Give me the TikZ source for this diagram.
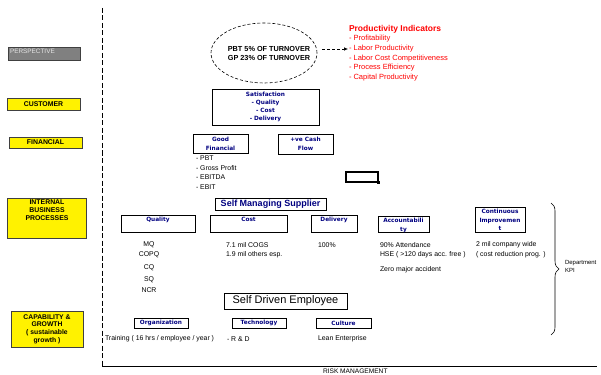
\documentclass[tikz,border=0pt]{standalone}
\usepackage{fontspec}
\setmainfont{Liberation Sans}
\newfontfamily\hdrfont{DejaVu Sans}
\usetikzlibrary{shapes.geometric,arrows.meta,decorations.pathreplacing}
\definecolor{navy}{RGB}{0,0,128}
\definecolor{perspgray}{RGB}{128,128,128}
\begin{document}
\begin{tikzpicture}[x=1pt,y=-1pt,
  every node/.style={inner sep=0pt,outer sep=0pt},
  txt/.style={anchor=west,font=\fontsize{6.9}{7.5}\selectfont},
  ctxt/.style={font=\fontsize{6.9}{7.5}\selectfont},
  redtxt/.style={anchor=west,text=red,font=\fontsize{7.5}{8}\selectfont},
  hdr/.style={font=\hdrfont\bfseries\fontsize{5.8}{8.5}\selectfont,text=navy,align=center},
  bbox/.style={draw,line width=0.6pt},
  ylab/.style={draw=black!75,fill=yellow,line width=0.8pt},
  ytxt/.style={font=\bfseries\fontsize{6.9}{7.8}\selectfont,align=center},
]
\useasboundingbox (0,0) rectangle (601,374);

% frame lines
\coordinate (vtop) at (102,8);
\coordinate (vbot) at (102,366);
\coordinate (hend) at (597,366);
\draw[line width=0.8pt,dash pattern=on 5pt off 2.5pt] (vtop) -- (vbot);
\draw[line width=0.8pt] (vbot) -- (hend);
\node[anchor=west,font=\fontsize{6.6}{7}\selectfont] (risk) at (323,371) {RISK MANAGEMENT};

% left perspective labels
\node[draw=black!75,fill=perspgray,line width=0.8pt,minimum width=72pt,minimum height=13pt] (persp) at (44,53.5) {};
\node[anchor=west,text=black!10,font=\fontsize{6.4}{7}\selectfont] (persptxt) at (10,51.5) {PERSPECTIVE};
\node[ylab,minimum width=73pt,minimum height=12pt] (cust) at (43.5,104) {};
\node[ytxt] at (cust) {CUSTOMER};
\node[ylab,minimum width=73pt,minimum height=11pt] (fin) at (45.5,142.5) {};
\node[ytxt] at (fin) {FINANCIAL};
\node[ylab,minimum width=79pt,minimum height=40pt] (ibp) at (46.5,218) {};
\node[ytxt,anchor=north] (ibptxt) at (47,200) {INTERNAL\\BUSINESS\\PROCESSES};
\node[ylab,minimum width=72pt,minimum height=36pt] (cap) at (47,329) {};
\node[ytxt,font=\bfseries\fontsize{6.8}{7.7}\selectfont] at (cap) {CAPABILITY \&\\GROWTH\\( sustainable\\growth )};

% perspective ellipse and productivity indicators
\node[ellipse,draw,line width=0.6pt,dash pattern=on 3pt off 2pt,minimum width=106pt,minimum height=60pt] (ell) at (264,53) {};
\node[align=center,font=\bfseries\fontsize{7.3}{9}\selectfont] (elltxt) at (269,53.5) {PBT 5\% OF TURNOVER\\GP 23\% OF TURNOVER};
\node[anchor=west,text=red,font=\bfseries\fontsize{8.5}{9}\selectfont] (ptitle) at (349,29.5) {Productivity Indicators};
\node[redtxt] (pi1) at (349,39) {- Profitability};
\node[redtxt] (pi2) at (349,49) {- Labor Productivity};
\node[redtxt] (pi3) at (349,58.5) {- Labor Cost Competitiveness};
\node[redtxt] (pi4) at (349,68) {- Process Efficiency};
\node[redtxt] (pi5) at (349,78) {- Capital Productivity};
\draw[line width=0.6pt,dash pattern=on 3pt off 2pt,-{Latex[length=4pt,width=3.5pt]},shorten <=5pt,shorten >=1pt]
  (ell.east |- pi2.west) -- (pi2.west);

% customer
\node[bbox,minimum width=107pt,minimum height=36pt] (sat) at (265.5,107) {};
\node[hdr,font=\hdrfont\bfseries\fontsize{5.8}{8}\selectfont] at (sat) {Satisfaction\\- Quality\\- Cost\\- Delivery};

% financial
\node[bbox,minimum width=55pt,minimum height=19pt] (gf) at (220.5,143.5) {};
\node[hdr,font=\hdrfont\bfseries\fontsize{5.8}{9}\selectfont] at (gf) {Good\\Financial};
\node[bbox,minimum width=55pt,minimum height=20pt] (cf) at (305.5,144) {};
\node[hdr,font=\hdrfont\bfseries\fontsize{5.8}{9}\selectfont] at (cf) {+ve Cash\\Flow};
\node[txt] (f1) at (196,158.5) {- PBT};
\node[txt] (f2) at (196,168) {- Gross Profit};
\node[txt] (f3) at (196,177.5) {- EBITDA};
\node[txt] (f4) at (196,187) {- EBIT};

\node[draw,line width=1.6pt,minimum width=32pt,minimum height=10pt] (sel) at (362,177) {};
\node[fill=black,minimum width=3pt,minimum height=3pt] (selh) at (sel.south east) {};

% internal business processes
\node[bbox,minimum width=111pt,minimum height=12pt,text=navy,font=\bfseries\fontsize{9}{10}\selectfont] (sms) at (270.5,204.5) {Self Managing Supplier};
\node[bbox,minimum width=74pt,minimum height=17pt] (qual) at (158,223.5) {};
\node[hdr,anchor=north] at ([yshift=-2.5pt]qual.north) {Quality};
\node[bbox,minimum width=77pt,minimum height=17pt] (cost) at (248.5,223.5) {};
\node[hdr,anchor=north] at ([yshift=-2.5pt]cost.north) {Cost};
\node[bbox,minimum width=46pt,minimum height=17pt] (deliv) at (334,223.5) {};
\node[hdr,anchor=north] at ([yshift=-2.5pt]deliv.north) {Delivery};
\node[bbox,minimum width=51pt,minimum height=16pt] (acc) at (403.5,224) {};
\node[hdr,anchor=north] at ([yshift=-2.5pt]acc.north) {Accountabili\\ty};
\node[bbox,minimum width=50pt,minimum height=25pt] (ci) at (500,219.5) {};
\node[hdr,anchor=north] at ([yshift=-2.5pt]ci.north) {Continuous\\Improvemen\\t};

\node[ctxt] (q1) at (149,245) {MQ};
\node[ctxt] (q2) at (149,254.5) {COPQ};
\node[ctxt] (q3) at (149,267.5) {CQ};
\node[ctxt] (q4) at (149,280) {SQ};
\node[ctxt] (q5) at (149,290) {NCR};
\node[txt] (c1) at (226,245) {7.1 mil COGS};
\node[txt] (c2) at (226,254.5) {1.9 mil others esp.};
\node[txt] (d1) at (318,245) {100\%};
\node[txt] (a1) at (380,245) {90\% Attendance};
\node[txt] (a2) at (380,255) {HSE ( >120 days acc. free )};
\node[txt] (a3) at (380,270) {Zero major accident};
\node[txt] (ci1) at (476,245) {2 mil company wide};
\node[txt] (ci2) at (476,255) {( cost reduction prog. )};

% brace
\coordinate (btop) at (551,203);
\coordinate (bbot) at (551,335);
\draw[line width=0.6pt,decorate,decoration={brace,amplitude=8pt}] (btop) -- (bbot);
\node[anchor=west,align=left,font=\fontsize{6}{8}\selectfont] (kpi) at (565,266) {Department\\KPI};

% capability and growth
\node[bbox,minimum width=123pt,minimum height=16pt,font=\fontsize{11}{12}\selectfont] (sde) at (285.5,301) {Self Driven Employee};
\node[bbox,minimum width=54pt,minimum height=10pt,hdr] (org) at (161,323) {Organization};
\node[bbox,minimum width=54pt,minimum height=10pt,hdr] (tech) at (259,323) {Technology};
\node[bbox,minimum width=55pt,minimum height=10pt,hdr] (cult) at (343.5,323) {Culture};
\node[txt] (t1) at (105,339) {Training ( 16 hrs / employee / year )};
\node[txt] (t2) at (227,339) {- R \& D};
\node[txt] (t3) at (318,339) {Lean Enterprise};
\end{tikzpicture}
\end{document}
